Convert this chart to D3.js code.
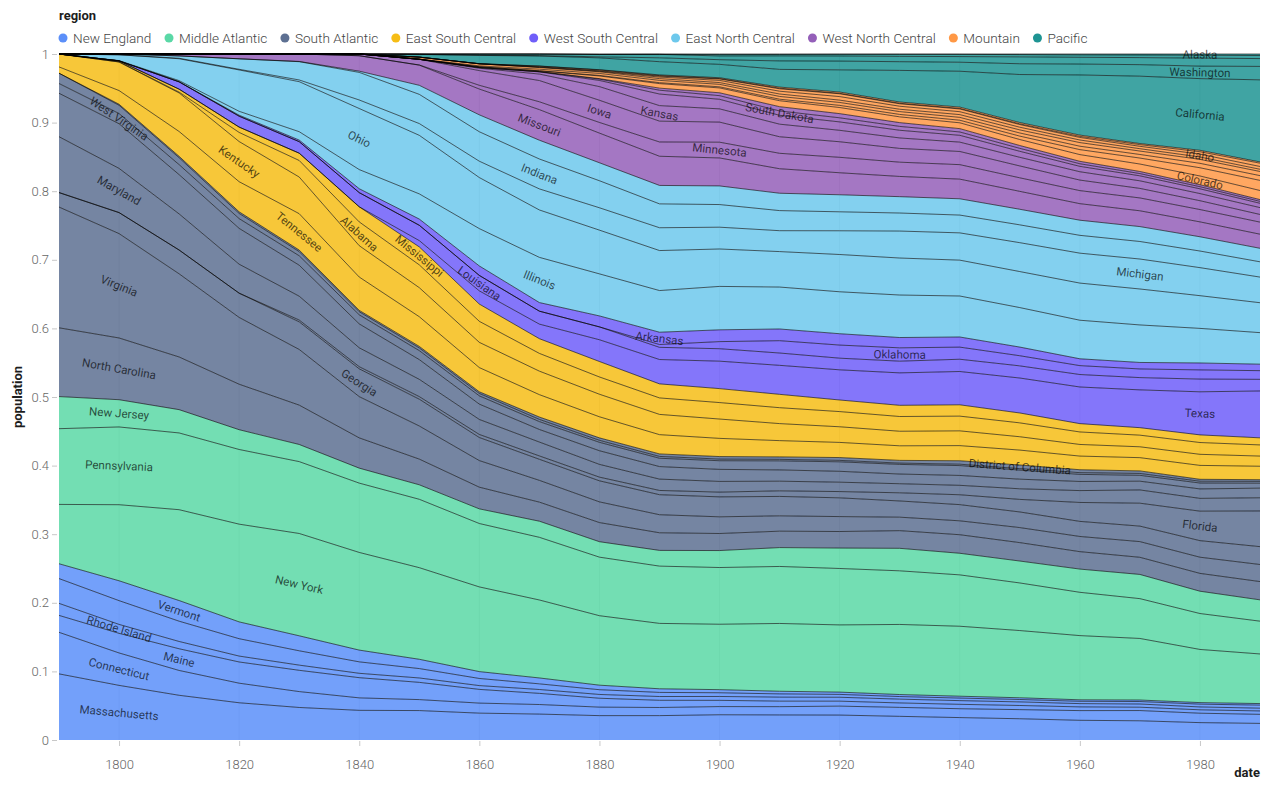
<!DOCTYPE html>
<html><head><meta charset="utf-8">
<script src="https://cdn.jsdelivr.net/npm/d3@7"></script>
<style>
body{margin:0;background:#fff;}
svg{display:block;font-family:Roboto,"Liberation Sans",Arial,sans-serif;}
</style>
</head><body>
<svg id="chart" width="1280" height="795"></svg>
<script>
// ---- data (population in thousands, census years) ----
const years = [1790,1800,1810,1820,1830,1840,1850,1860,1870,1880,1890,1900,1910,1920,1930,1940,1950,1960,1970,1980,1990];
const regions = ["New England","Middle Atlantic","South Atlantic","East South Central","West South Central","East North Central","West North Central","Mountain","Pacific"];
const regionColors = ["#5B8FF9","#5AD8A6","#5D7092","#F6BD16","#6F5EF9","#6DC8EC","#945FB9","#FF9845","#1E9493"];

const newEngland = [
  ["Massachusetts",[379,423,472,523,610,738,995,1231,1457,1783,2239,2805,3366,3852,4250,4317,4691,5149,5689,5737,6016]],
  ["Connecticut",[238,251,262,275,298,310,371,460,537,623,746,908,1115,1381,1607,1709,2007,2535,3032,3108,3287]],
  ["Maine",[97,152,229,298,399,502,583,628,627,649,661,694,742,768,797,847,914,969,992,1125,1228]],
  ["Rhode Island",[69,69,77,83,97,109,148,175,217,277,346,429,543,604,687,713,792,859,947,947,1003]],
  ["New Hampshire",[142,184,214,244,269,285,318,326,318,347,377,412,431,443,465,492,533,607,738,921,1109]],
  ["Vermont",[85,154,218,236,281,292,314,315,331,332,332,344,356,352,360,359,378,390,444,511,563]]
];
const middleAtlantic = [
  ["New York",[340,589,959,1373,1919,2429,3097,3881,4383,5083,6003,7269,9114,10385,12588,13479,14830,16782,18237,17558,17990]],
  ["Pennsylvania",[434,602,810,1049,1348,1724,2312,2906,3522,4283,5258,6302,7665,8720,9631,9900,10498,11319,11794,11864,11882]],
  ["New Jersey",[184,211,246,278,321,373,490,672,906,1131,1445,1884,2537,3156,4041,4160,4835,6067,7168,7365,7730]]
];
const southAtlantic = [
  ["North Carolina",[394,478,556,639,738,753,869,993,1071,1400,1618,1894,2206,2559,3170,3572,4062,4556,5082,5882,6629]],
  ["Virginia",[692,808,878,938,1044,1025,1119,1220,1225,1513,1656,1854,2062,2309,2422,2678,3319,3967,4648,5347,6187]],
  ["Georgia",[83,163,251,341,517,691,906,1057,1184,1542,1837,2216,2609,2896,2909,3124,3445,3943,4590,5463,6478]],
  ["Florida",[0,0,0,0,35,54,87,140,188,269,391,529,753,968,1468,1897,2771,4952,6789,9746,12938]],
  ["Maryland",[320,342,381,407,447,470,583,687,781,935,1042,1188,1295,1450,1632,1821,2343,3101,3922,4217,4781]],
  ["South Carolina",[249,346,415,503,581,594,669,704,706,996,1151,1340,1515,1684,1739,1900,2117,2383,2591,3122,3487]],
  ["West Virginia",[56,79,105,137,177,225,302,377,442,618,763,959,1221,1464,1729,1902,2006,1860,1744,1950,1793]],
  ["Delaware",[59,64,73,73,77,78,92,112,125,147,168,185,202,223,238,267,318,446,548,594,666]],
  ["District of Columbia",[0,8,15,23,30,34,52,75,132,178,230,279,331,438,487,663,802,764,757,638,607]]
];
const eastSouthCentral = [
  ["Tennessee",[36,106,262,423,682,829,1003,1110,1259,1542,1768,2021,2185,2338,2617,2916,3292,3567,3924,4591,4877]],
  ["Kentucky",[74,221,407,564,688,780,982,1156,1321,1649,1859,2147,2290,2417,2615,2846,2945,3038,3219,3661,3685]],
  ["Alabama",[0,1,9,128,310,591,772,964,997,1263,1513,1829,2138,2348,2646,2833,3062,3267,3444,3894,4041]],
  ["Mississippi",[0,8,31,75,137,376,607,791,828,1132,1290,1551,1797,1791,2010,2184,2179,2178,2217,2521,2573]]
];
const westSouthCentral = [
  ["Texas",[0,0,0,0,0,0,213,604,819,1592,2236,3049,3897,4663,5825,6415,7711,9580,11197,14229,16987]],
  ["Louisiana",[0,0,77,153,216,352,518,708,727,940,1119,1382,1656,1799,2102,2364,2684,3257,3641,4206,4220]],
  ["Oklahoma",[0,0,0,0,0,0,0,0,0,0,259,790,1657,2028,2396,2336,2233,2328,2559,3025,3146]],
  ["Arkansas",[0,0,1,14,30,98,210,435,484,803,1128,1312,1574,1752,1854,1949,1910,1786,1923,2286,2351]]
];
const eastNorthCentral = [
  ["Illinois",[0,2,12,55,157,476,851,1712,2540,3078,3826,4822,5639,6485,7631,7897,8712,10081,11114,11427,11431]],
  ["Ohio",[0,45,231,581,938,1519,1980,2340,2665,3198,3672,4158,4767,5759,6647,6908,7947,9706,10652,10798,10847]],
  ["Michigan",[0,0,5,9,32,212,398,749,1184,1637,2094,2421,2810,3668,4842,5256,6372,7823,8875,9262,9295]],
  ["Indiana",[0,6,25,147,343,686,988,1350,1681,1978,2192,2516,2701,2930,3239,3428,3934,4662,5194,5490,5544]],
  ["Wisconsin",[0,0,0,1,4,31,305,776,1055,1315,1693,2069,2334,2632,2939,3138,3435,3952,4418,4706,4892]]
];
const westNorthCentral = [
  ["Missouri",[0,0,20,67,140,384,682,1182,1721,2168,2679,3107,3293,3404,3629,3785,3955,4320,4677,4917,5117]],
  ["Minnesota",[0,0,0,0,0,0,6,172,440,781,1310,1751,2076,2387,2564,2792,2982,3414,3805,4076,4375]],
  ["Iowa",[0,0,0,0,0,43,192,675,1194,1625,1912,2232,2225,2404,2471,2538,2621,2758,2824,2914,2777]],
  ["Kansas",[0,0,0,0,0,0,0,107,364,996,1428,1470,1691,1769,1881,1801,1905,2179,2247,2364,2478]],
  ["Nebraska",[0,0,0,0,0,0,0,29,123,452,1063,1066,1192,1296,1378,1316,1326,1411,1483,1570,1578]],
  ["South Dakota",[0,0,0,0,0,0,0,5,12,98,349,402,584,637,693,643,653,681,666,691,696]],
  ["North Dakota",[0,0,0,0,0,0,0,0,2,37,191,319,577,647,681,642,620,632,618,653,639]]
];
const mountain = [
  ["Colorado",[0,0,0,0,0,0,0,34,40,194,413,540,799,940,1036,1123,1325,1754,2207,2890,3294]],
  ["Arizona",[0,0,0,0,0,0,0,0,10,40,88,123,204,334,436,499,750,1302,1771,2718,3665]],
  ["Utah",[0,0,0,0,0,0,11,40,87,144,211,277,373,449,508,550,689,891,1059,1461,1723]],
  ["New Mexico",[0,0,0,0,0,0,62,94,92,120,160,195,327,360,423,532,681,951,1016,1303,1515]],
  ["Montana",[0,0,0,0,0,0,0,0,21,39,143,243,376,549,538,559,591,675,694,787,799]],
  ["Idaho",[0,0,0,0,0,0,0,0,15,33,89,162,326,432,445,525,589,667,713,944,1007]],
  ["Nevada",[0,0,0,0,0,0,0,7,42,62,47,42,82,77,91,110,160,285,489,800,1202]],
  ["Wyoming",[0,0,0,0,0,0,0,0,9,21,63,93,146,194,226,251,291,330,332,470,454]]
];
const pacific = [
  ["California",[0,0,0,0,0,0,93,380,560,865,1213,1485,2378,3427,5677,6907,10586,15717,19953,23668,29760]],
  ["Washington",[0,0,0,0,0,0,1,12,24,75,357,518,1142,1357,1563,1736,2379,2853,3409,4132,4867]],
  ["Oregon",[0,0,0,0,0,0,12,52,91,175,318,414,673,783,954,1090,1521,1769,2091,2633,2842]],
  ["Hawaii",[0,0,0,0,0,0,0,0,0,0,0,154,192,256,368,423,500,633,769,965,1108]],
  ["Alaska",[0,0,0,0,0,0,0,0,0,33,32,64,64,55,59,73,129,226,300,402,550]]
];
const labeledStates = ["Massachusetts","Connecticut","Maine","Rhode Island","Vermont","New York","Pennsylvania","New Jersey",
  "North Carolina","Virginia","Maryland","West Virginia","Georgia","Florida","District of Columbia",
  "Kentucky","Tennessee","Alabama","Mississippi","Louisiana","Arkansas","Oklahoma","Texas",
  "Ohio","Indiana","Illinois","Michigan","Missouri","Iowa","Kansas","Minnesota","South Dakota",
  "Idaho","Colorado","California","Washington","Alaska"];
const xTicks = [1800,1820,1840,1860,1880,1900,1920,1940,1960,1980];
const yTicks = [0,0.1,0.2,0.3,0.4,0.5,0.6,0.7,0.8,0.9,1];

// ---- build ----
const groups = [newEngland,middleAtlantic,southAtlantic,eastSouthCentral,westSouthCentral,eastNorthCentral,westNorthCentral,mountain,pacific];
const states = [];
groups.forEach((g,gi)=>g.forEach(([name,vals])=>states.push({name,region:gi,vals})));
const regionOf = new Map(states.map(s=>[s.name,s.region]));
const rows = years.map((yr,i)=>{const r={year:yr}; states.forEach(s=>r[s.name]=s.vals[i]); return r;});
const series = d3.stack().keys(states.map(s=>s.name)).offset(d3.stackOffsetExpand)(rows);

const L=59,R=1260,T=54,B=740;
const x = d3.scaleLinear().domain([1790,1990]).range([L,R]);
const y = d3.scaleLinear().domain([0,1]).range([B,T]);
const svg = d3.select("#chart");

// grid
svg.append("g").selectAll("line").data(xTicks).join("line")
  .attr("x1",d=>x(d)).attr("x2",d=>x(d)).attr("y1",T).attr("y2",B)
  .attr("stroke","#d9d9d9").attr("stroke-width",1);

const area = d3.area().x(d=>x(d.data.year)).y0(d=>y(d[0])).y1(d=>y(d[1]));
const line = d3.line().x(d=>x(d.data.year)).y(d=>y(d[1]));

svg.append("g").selectAll("path").data(series).join("path")
  .attr("d",area).attr("fill",s=>regionColors[regionOf.get(s.key)]).attr("fill-opacity",0.85);
svg.append("g").selectAll("path").data(series).join("path")
  .attr("d",line).attr("fill","none").attr("stroke","#000").attr("stroke-opacity",0.6).attr("stroke-width",1);

// labels
const lab = svg.append("g").attr("font-size",11.6).attr("fill","#000").attr("fill-opacity",0.68);
series.filter(s=>labeledStates.includes(s.key)).forEach(s=>{
  let best=1, bt=-1;
  for(let i=1;i<s.length-1;i++){const t=s[i][1]-s[i][0]; if(t>bt){bt=t;best=i;}}
  const mid=i=>y((s[i][0]+s[i][1])/2);
  const px=x(years[best]), py=mid(best);
  const ang=Math.atan2(mid(best+1)-mid(best-1), x(years[best+1])-x(years[best-1]))*180/Math.PI;
  lab.append("text").attr("transform",`translate(${px},${py}) rotate(${ang})`)
    .attr("text-anchor","middle").attr("dominant-baseline","central").text(s.key);
});

// axes
const yAxis = svg.append("g").attr("transform",`translate(57,0)`)
  .call(d3.axisLeft(y).tickValues(yTicks).tickFormat(d3.format("~g")).tickSize(5).tickPadding(3));
const xAxis = svg.append("g").attr("transform",`translate(0,${B+1})`)
  .call(d3.axisBottom(x).tickValues(xTicks).tickFormat(d3.format("d")).tickSize(5).tickPadding(14));
[yAxis,xAxis].forEach(a=>{
  a.select(".domain").remove();
  a.selectAll(".tick line").attr("stroke","#c8c8c8");
  a.selectAll(".tick text").attr("fill","#666").attr("font-size",13).attr("font-family","Roboto,'Liberation Sans',sans-serif").attr("font-weight",300);
});

// titles
svg.append("text").attr("x",R).attr("y",777).attr("text-anchor","end").attr("font-size",13).attr("font-weight","bold").attr("fill","#1d1d1d").text("date");
svg.append("text").attr("transform",`translate(22,${(T+B)/2}) rotate(-90)`).attr("text-anchor","middle").attr("font-size",13).attr("font-weight","bold").attr("fill","#1d1d1d").text("population");
svg.append("text").attr("x",59).attr("y",20).attr("font-size",13).attr("font-weight","bold").attr("fill","#1d1d1d").text("region");

// legend
const lg = svg.append("g");
let cx = 63;
regions.forEach((r,i)=>{
  lg.append("circle").attr("cx",cx).attr("cy",38).attr("r",4.5).attr("fill",regionColors[i]);
  const t = lg.append("text").attr("x",cx+10).attr("y",43).attr("font-size",13.6).attr("font-weight",300).attr("fill","#444").text(r);
  cx = cx+10+t.node().getComputedTextLength()+17.6;
});
</script>
</body></html>
